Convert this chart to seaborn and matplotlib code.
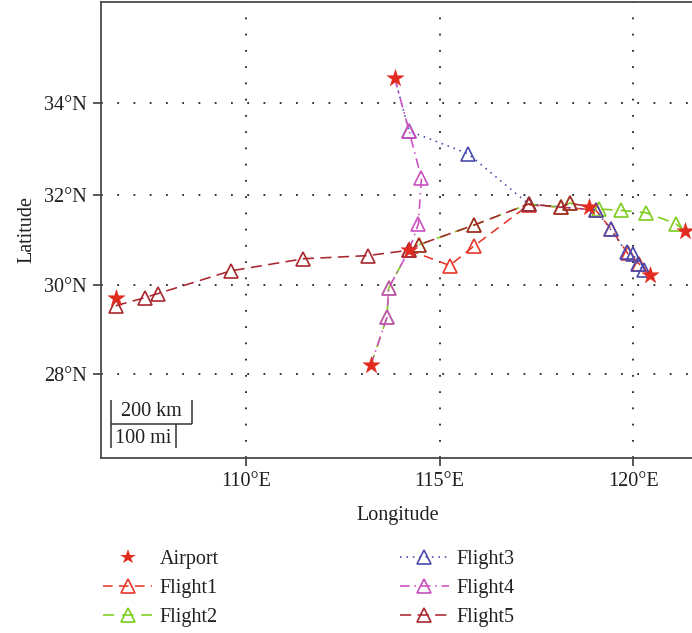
import numpy as np
import pandas as pd
import matplotlib
matplotlib.use("Agg")
import matplotlib.pyplot as plt
from matplotlib.lines import Line2D
import seaborn as sns

# Airports (lon, lat)
airport_names = ["Zhengzhou", "Changsha", "Wuhan", "Chongqing", "Nanjing", "Hangzhou", "Shanghai"]
airport_lon = [113.84, 113.22, 114.21, 106.64, 118.86, 120.43, 121.34]
airport_lat = [34.52, 28.19, 30.78, 29.72, 31.74, 30.23, 31.20]

# Flight track points (lon, lat)
flight1_lon = [114.21, 115.26, 115.90, 117.30, 118.14, 119.03, 119.42, 119.86, 120.15, 120.43]
flight1_lat = [30.78, 30.44, 30.88, 31.78, 31.73, 31.67, 31.26, 30.71, 30.48, 30.23]

flight2_lon = [113.22, 113.64, 113.68, 114.21, 114.46, 115.90, 117.30, 118.14, 118.36,
               119.12, 119.69, 120.33, 121.10, 121.34]
flight2_lat = [28.19, 29.28, 29.93, 30.78, 30.90, 31.34, 31.80, 31.73, 31.82,
               31.69, 31.66, 31.61, 31.37, 31.20]

flight3_lon = [113.84, 114.21, 115.73, 117.30, 119.03, 119.42, 119.83, 120.00, 120.12, 120.27, 120.43]
flight3_lat = [34.52, 33.39, 32.90, 31.80, 31.67, 31.24, 30.73, 30.70, 30.48, 30.33, 30.23]

flight4_lon = [113.84, 114.21, 114.53, 114.45, 114.21, 113.68, 113.64, 113.22]
flight4_lat = [34.52, 33.39, 32.36, 31.36, 30.78, 29.93, 29.28, 28.19]

flight5_lon = [106.63, 107.38, 107.71, 109.60, 111.48, 113.14, 114.21, 114.46, 115.90,
               117.30, 118.14, 118.36, 118.86]
flight5_lat = [29.54, 29.72, 29.81, 30.32, 30.59, 30.66, 30.78, 30.90, 31.34,
               31.80, 31.73, 31.82, 31.74]

lon_ticks = [110, 115, 120]
lat_ticks = [28, 30, 32, 34]


def merc(lat):
    """Mercator northing expressed in degree units."""
    lat = np.asarray(lat, dtype=float)
    return np.degrees(np.log(np.tan(np.pi / 4 + np.radians(lat) / 2)))


sns.set_style("ticks")
plt.rcParams["font.family"] = ["Liberation Serif", "DejaVu Serif"]
FS = 14.5
TXT = "#231f20"
SPINE = "#4a4a4a"

W, H = 692, 633
fig = plt.figure(figsize=(W / 100, H / 100), dpi=100)

lon_min, lon_max = 106.25, 121.57
lat_min, lat_max = 26.06, 36.13
px_per_deg = 38.7
ax_w = (lon_max - lon_min) * px_per_deg
ax_h = float(merc(lat_max) - merc(lat_min)) * px_per_deg
ax = fig.add_axes([101 / W, 175 / H, ax_w / W, ax_h / H])
ax.set_xlim(lon_min, lon_max)
ax.set_ylim(float(merc(lat_min)), float(merc(lat_max)))

airports = set(zip(airport_lon, airport_lat))

flights = [
    ("Flight1", flight1_lon, flight1_lat, "#e8382b", (0, (6, 4))),
    ("Flight2", flight2_lon, flight2_lat, "#7ccc1c", (0, (7, 5))),
    ("Flight3", flight3_lon, flight3_lat, "#4a4aae", (0, (1, 3))),
    ("Flight4", flight4_lon, flight4_lat, "#cc4fbf", (0, (6, 3, 1, 3))),
    ("Flight5", flight5_lon, flight5_lat, "#a8262e", (0, (7, 4))),
]

handles = [Line2D([], [], linestyle="none", marker="*", markersize=11.5,
                  color="#e32a1f", markeredgewidth=0)]
labels = ["Airport"]

for i, (name, lon, lat, color, ls) in enumerate(flights):
    df = pd.DataFrame({"lon": lon, "y": merc(lat)})
    n = len(lon)
    # markers everywhere except at endpoints that sit on an airport
    mark = [not (j in (0, n - 1) and (lon[j], lat[j]) in airports) for j in range(n)]
    sns.lineplot(data=df, x="lon", y="y", sort=False, estimator=None, ax=ax,
                 color=color, linestyle=ls, linewidth=1.15, marker="^", markersize=9.5,
                 markerfacecolor="none", markeredgecolor=color, markeredgewidth=1.2,
                 markevery=mark, zorder=3 + i * 0.1)
    handles.append(Line2D([], [], color=color, linestyle=ls, linewidth=1.15, marker="^",
                          markersize=9.5, markerfacecolor="none", markeredgecolor=color,
                          markeredgewidth=1.2))
    labels.append(name)

ap = pd.DataFrame({"lon": airport_lon, "y": merc(airport_lat)})
sns.scatterplot(data=ap, x="lon", y="y", ax=ax, marker="*", s=165, color="#e32a1f",
                edgecolor="#e32a1f", linewidth=0.3, zorder=5)

# grid and axes
ax.set_xticks(lon_ticks)
ax.set_xticklabels([f"{v}°E" for v in lon_ticks])
ax.set_yticks(merc(lat_ticks))
ax.set_yticklabels([f"{v}°N" for v in lat_ticks])
ax.grid(True, color="#222222", linestyle=(0, (1, 8)), linewidth=1.3)
ax.set_axisbelow(True)
for s in ax.spines.values():
    s.set_color(SPINE)
    s.set_linewidth(1.3)
ax.tick_params(direction="out", length=6, width=1.3, color=SPINE, labelsize=FS,
               labelcolor=TXT, pad=4)
ax.set_xlabel("Longitude", fontsize=FS, color=TXT, labelpad=11)
ax.set_ylabel("Latitude", fontsize=FS, color=TXT, labelpad=6)

# scale bar (200 km / 100 mi) at mid-map latitude
lat_ref = 0.5 * (lat_min + lat_max)
km_per_deg = 111.32 * np.cos(np.radians(lat_ref))
km_len = 200 / km_per_deg
mi_len = 100 * 1.609344 / km_per_deg
x0 = lon_min + 0.25
y0 = float(merc(lat_min)) + 0.88
tk = 0.61
bar_kw = dict(color="#333333", linewidth=1.1, solid_capstyle="butt", zorder=4)
ax.plot([x0, x0 + km_len], [y0, y0], **bar_kw)
ax.plot([x0, x0], [y0 - tk, y0 + tk], **bar_kw)
ax.plot([x0 + km_len] * 2, [y0, y0 + tk], **bar_kw)
ax.plot([x0 + mi_len] * 2, [y0 - tk, y0], **bar_kw)
ax.text(x0 + km_len / 2, y0 + 0.33, "200 km", ha="center", va="center", fontsize=FS, color=TXT)
ax.text(x0 + mi_len / 2, y0 - 0.38, "100 mi", ha="center", va="center", fontsize=FS, color=TXT)

fig.legend(handles, labels, ncol=2, loc="upper left",
           bbox_to_anchor=(103 / W, 1 - 550 / H), frameon=False, fontsize=FS,
           handlelength=2.45, handletextpad=0.35, columnspacing=9.0,
           labelspacing=0.5, borderpad=0, borderaxespad=0, labelcolor=TXT)

fig.savefig("out.png", dpi=100)
